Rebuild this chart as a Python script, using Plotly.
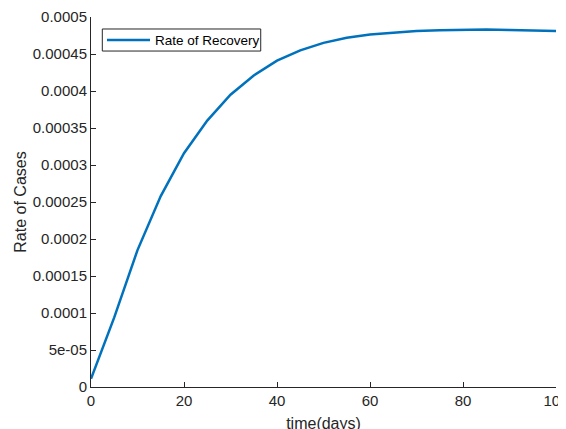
import plotly.graph_objects as go

days = [0, 5, 10, 15, 20, 25, 30, 35, 40, 45, 50, 55, 60, 65, 70, 75, 80, 85, 90, 95, 100]
recovery_rate = [1.1e-5, 9.4e-5, 1.85e-4, 2.58e-4, 3.16e-4, 3.60e-4, 3.95e-4, 4.21e-4, 4.41e-4,
                 4.55e-4, 4.65e-4, 4.72e-4, 4.765e-4, 4.79e-4, 4.81e-4, 4.82e-4, 4.83e-4,
                 4.83e-4, 4.825e-4, 4.82e-4, 4.81e-4]
y_ticks = [0, 5e-5, 1e-4, 1.5e-4, 2e-4, 2.5e-4, 3e-4, 3.5e-4, 4e-4, 4.5e-4, 5e-4]
y_tick_text = ["0", "5e-05", "0.0001", "0.00015", "0.0002", "0.00025", "0.0003",
               "0.00035", "0.0004", "0.00045", "0.0005"]
x_ticks = [0, 20, 40, 60, 80, 100]
series_name = "Rate of Recovery"

dark = "#262626"
blue = "#0072BD"
fig = go.Figure()
fig.add_trace(go.Scatter(x=days, y=recovery_rate, mode="lines", name=series_name,
                         line=dict(color=blue, width=2.5), showlegend=False))

# MATLAB-style compact legend box
fig.add_shape(type="rect", xref="paper", yref="paper", x0=0.0243, x1=0.365, y0=0.908, y1=0.9676,
              line=dict(color=dark, width=1), fillcolor="white", layer="above")
fig.add_shape(type="line", xref="paper", yref="paper", x0=0.0344, x1=0.1269, y0=0.9378, y1=0.9378,
              line=dict(color=blue, width=2.5), layer="above")
fig.add_annotation(xref="paper", yref="paper", x=0.133, y=0.9378, xanchor="left", yanchor="middle",
                   text=series_name, showarrow=False, font=dict(size=13.5, color="black"))

fig.update_layout(
    width=566, height=429,
    margin=dict(l=83, r=18, t=9, b=50, autoexpand=False),
    paper_bgcolor="white", plot_bgcolor="white",
    font=dict(family="Liberation Sans, Arial, sans-serif", size=15, color=dark),
    showlegend=False,
    xaxis=dict(range=[0, 100], tickvals=x_ticks, ticks="inside", ticklen=5,
               tickcolor=dark, showline=True, linecolor=dark, linewidth=1,
               showgrid=False, zeroline=False, mirror=False, automargin=False,
               ticklabeloverflow="allow",
               title=dict(text="time(days)", standoff=9, font=dict(size=16))),
    yaxis=dict(range=[0, 5e-4], tickvals=y_ticks, ticktext=y_tick_text, ticks="inside",
               ticklen=5, tickcolor=dark, showline=True, linecolor=dark, linewidth=1,
               showgrid=False, zeroline=False, mirror=False, automargin=False,
               title=dict(text="Rate of Cases", standoff=2, font=dict(size=16))),
)

fig.write_html("out.html")
